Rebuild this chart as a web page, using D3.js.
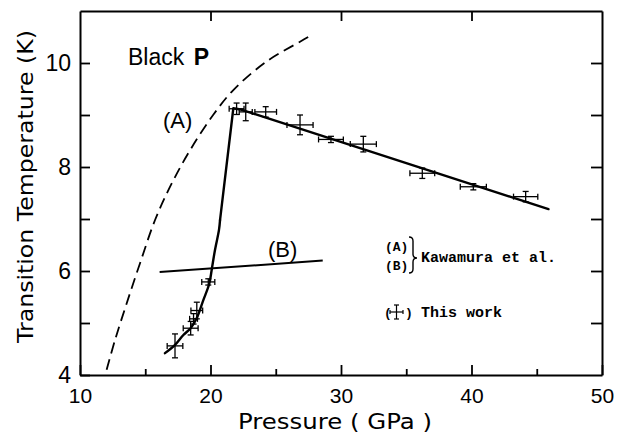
<!DOCTYPE html>
<html>
<head>
<meta charset="utf-8">
<script src="https://cdn.jsdelivr.net/npm/d3@7"></script>
<style>
  html, body { margin: 0; padding: 0; background: #fff; }
  svg { display: block; }
</style>
</head>
<body>
<svg id="chart" width="623" height="435"></svg>
<script>
// ---- data ----
const pressure    = [17.28, 18.48, 18.7, 18.95, 19.83, 22.0, 22.7, 24.23, 26.86, 29.23, 31.71, 36.23, 40.14, 44.15];
const temperature = [4.56, 4.90, 5.08, 5.24, 5.79, 9.12, 9.06, 9.06, 8.81, 8.53, 8.44, 7.88, 7.62, 7.43];
const pressureErr = [0.6, 0.57, 0.3, 0.45, 0.5, 0.57, 0.5, 0.83, 1.0, 0.95, 1.0, 0.95, 1.0, 0.93];
const tempErr     = [0.23, 0.13, 0.1, 0.16, 0.06, 0.11, 0.17, 0.1, 0.19, 0.06, 0.15, 0.1, 0.06, 0.1];

// fitted solid curve through this work: smooth low-pressure rise ...
const fitLowP = [16.51, 17.28, 17.92, 18.48, 18.94, 19.45, 19.91, 20.09, 20.34, 20.65, 20.73];
const fitLowT = [4.42, 4.58, 4.77, 4.90, 5.09, 5.44, 5.76, 6.02, 6.40, 6.79, 6.98];
// ... then straight segments to the peak and down
const fitHighP = [20.73, 21.75, 22.4, 45.9];
const fitHighT = [6.98, 9.13, 9.1, 7.19];

// Kawamura et al. curve (A), dashed
const curveAP = [12.04, 12.68, 13.58, 14.6, 15.75, 17.0, 18.5, 20.2, 21.75, 24.3, 26.86, 27.88];
const curveAT = [4.1, 4.67, 5.38, 6.15, 6.98, 7.67, 8.35, 9.0, 9.48, 10.03, 10.41, 10.56];

// Kawamura et al. line (B)
const lineBP = [16.1, 28.6];
const lineBT = [5.98, 6.2];

const xMajorTicks = [10, 20, 30, 40, 50];
const xMinorTicks = [15, 25, 35, 45];
const yLabelTicks = [4, 6, 8, 10];
const yMinorTicks = [5, 7, 9];

// ---- drawing ----
const svg = d3.select("#chart");
const L = 80, R = 602, T = 11, B = 375;
const x = d3.scaleLinear().domain([10, 50]).range([L, R]);
const y = d3.scaleLinear().domain([4, 11]).range([B, T]);

const sans = "'Liberation Sans', Arial, sans-serif";
const dejavu = "'DejaVu Sans', sans-serif";
const mono = "'Liberation Mono', 'Courier New', monospace";

function styleAxis(g) {
  g.select(".domain").attr("stroke", "#000").attr("stroke-width", 2);
  g.selectAll(".tick line").attr("stroke", "#000").attr("stroke-width", 1.8);
}

// bottom axis
svg.append("g").attr("transform", `translate(0,${B})`)
  .call(d3.axisBottom(x).tickValues(xMajorTicks).tickSize(-10).tickSizeOuter(0).tickPadding(13).tickFormat(d3.format("d")))
  .call(styleAxis)
  .call(g => g.selectAll("text").attr("font-family", sans).attr("font-size", 21).attr("fill", "#000"));
svg.append("g").attr("transform", `translate(0,${B})`)
  .call(d3.axisBottom(x).tickValues(xMinorTicks).tickSize(-6).tickSizeOuter(0).tickFormat(""))
  .call(styleAxis).call(g => g.select(".domain").remove());

// top axis
svg.append("g").attr("transform", `translate(0,${T})`)
  .call(d3.axisTop(x).tickValues([20, 30, 40]).tickSize(-10).tickSizeOuter(0).tickFormat(""))
  .call(styleAxis);

// left axis
svg.append("g").attr("transform", `translate(${L},0)`)
  .call(d3.axisLeft(y).tickValues(yLabelTicks).tickSize(-10).tickSizeOuter(0).tickPadding(9).tickFormat(d3.format("d")))
  .call(styleAxis)
  .call(g => g.selectAll("text").attr("font-family", sans).attr("font-size", 23).attr("fill", "#000"));
svg.append("g").attr("transform", `translate(${L},0)`)
  .call(d3.axisLeft(y).tickValues(yMinorTicks).tickSize(-10).tickSizeOuter(0).tickFormat(""))
  .call(styleAxis).call(g => g.select(".domain").remove());

// right axis
svg.append("g").attr("transform", `translate(${R},0)`)
  .call(d3.axisRight(y).tickValues([5, 6, 7, 8, 9, 10]).tickSize(-11).tickSizeOuter(0).tickFormat(""))
  .call(styleAxis);

// axis titles
svg.append("text")
  .attr("x", 238).attr("y", 429)
  .attr("font-family", dejavu).attr("font-size", 22)
  .attr("textLength", 194).attr("lengthAdjust", "spacingAndGlyphs")
  .text("Pressure ( GPa )");
svg.append("text")
  .attr("transform", "translate(33,343) rotate(-90)")
  .attr("font-family", dejavu).attr("font-size", 21)
  .attr("textLength", 313).attr("lengthAdjust", "spacingAndGlyphs")
  .text("Transition Temperature (K)");

// curve (A) dashed
const ptsA = curveAP.map((p, i) => [p, curveAT[i]]);
svg.append("path")
  .attr("d", d3.line().x(d => x(d[0])).y(d => y(d[1])).curve(d3.curveCatmullRom.alpha(0.5))(ptsA))
  .attr("fill", "none").attr("stroke", "#000").attr("stroke-width", 1.8)
  .attr("stroke-dasharray", "11,6");

// line (B)
const ptsB = lineBP.map((p, i) => [p, lineBT[i]]);
svg.append("path")
  .attr("d", d3.line().x(d => x(d[0])).y(d => y(d[1]))(ptsB))
  .attr("fill", "none").attr("stroke", "#000").attr("stroke-width", 2);

// fitted solid curve
const ptsFitLow = fitLowP.map((p, i) => [p, fitLowT[i]]);
const ptsFitHigh = fitHighP.map((p, i) => [p, fitHighT[i]]);
svg.append("path")
  .attr("d", d3.line().x(d => x(d[0])).y(d => y(d[1])).curve(d3.curveCatmullRom.alpha(0.5))(ptsFitLow))
  .attr("fill", "none").attr("stroke", "#000").attr("stroke-width", 2.4)
  .attr("stroke-linecap", "round");
svg.append("path")
  .attr("d", d3.line().x(d => x(d[0])).y(d => y(d[1]))(ptsFitHigh))
  .attr("fill", "none").attr("stroke", "#000").attr("stroke-width", 2.4)
  .attr("stroke-linejoin", "round").attr("stroke-linecap", "round");

// error bars (this work)
const eb = svg.append("g").attr("stroke", "#000").attr("stroke-width", 1.3);
pressure.forEach((p, i) => {
  const cx = x(p), cy = y(temperature[i]);
  const x0 = x(p - pressureErr[i]), x1 = x(p + pressureErr[i]);
  const y0 = y(temperature[i] - tempErr[i]), y1 = y(temperature[i] + tempErr[i]);
  eb.append("line").attr("x1", x0).attr("x2", x1).attr("y1", cy).attr("y2", cy);
  eb.append("line").attr("x1", x0).attr("x2", x0).attr("y1", cy - 3).attr("y2", cy + 3);
  eb.append("line").attr("x1", x1).attr("x2", x1).attr("y1", cy - 3).attr("y2", cy + 3);
  eb.append("line").attr("x1", cx).attr("x2", cx).attr("y1", y0).attr("y2", y1);
  eb.append("line").attr("x1", cx - 3).attr("x2", cx + 3).attr("y1", y0).attr("y2", y0);
  eb.append("line").attr("x1", cx - 3).attr("x2", cx + 3).attr("y1", y1).attr("y2", y1);
});

// annotations
const black = svg.append("text").attr("x", 128).attr("y", 65)
  .attr("font-family", sans).attr("font-size", 23);
black.append("tspan").text("Black ");
black.append("tspan").attr("dx", 3).attr("font-weight", "bold").text("P");
svg.append("text").attr("x", 163).attr("y", 128).attr("font-family", sans).attr("font-size", 22).text("(A)");
svg.append("text").attr("x", 268).attr("y", 257).attr("font-family", sans).attr("font-size", 22).text("(B)");

// legend
svg.append("text").attr("x", 385).attr("y", 251).attr("font-family", mono).attr("font-weight", "bold").attr("font-size", 13).text("(A)");
svg.append("text").attr("x", 385).attr("y", 270).attr("font-family", mono).attr("font-weight", "bold").attr("font-size", 13).text("(B)");
svg.append("path")
  .attr("d", "M409,237 Q413,237 413,241 L413,254 Q413,258 417,258 Q413,258 413,262 L413,269 Q413,273 409,273")
  .attr("fill", "none").attr("stroke", "#000").attr("stroke-width", 1.4);
svg.append("text").attr("x", 421).attr("y", 262).attr("font-family", mono).attr("font-weight", "bold").attr("font-size", 15).text("Kawamura et al.");

svg.append("text").attr("x", 384).attr("y", 317).attr("font-family", mono).attr("font-weight", "bold").attr("font-size", 13).text("(");
svg.append("text").attr("x", 405).attr("y", 317).attr("font-family", mono).attr("font-weight", "bold").attr("font-size", 13).text(")");
const lg = svg.append("g").attr("stroke", "#000").attr("stroke-width", 1.2);
lg.append("line").attr("x1", 390).attr("x2", 403).attr("y1", 312).attr("y2", 312);
lg.append("line").attr("x1", 390).attr("x2", 390).attr("y1", 310).attr("y2", 314);
lg.append("line").attr("x1", 403).attr("x2", 403).attr("y1", 310).attr("y2", 314);
lg.append("line").attr("x1", 396.5).attr("x2", 396.5).attr("y1", 305).attr("y2", 319);
lg.append("line").attr("x1", 394).attr("x2", 399).attr("y1", 305).attr("y2", 305);
lg.append("line").attr("x1", 394).attr("x2", 399).attr("y1", 319).attr("y2", 319);
svg.append("text").attr("x", 421).attr("y", 317).attr("font-family", mono).attr("font-weight", "bold").attr("font-size", 15).text("This work");
</script>
</body>
</html>
